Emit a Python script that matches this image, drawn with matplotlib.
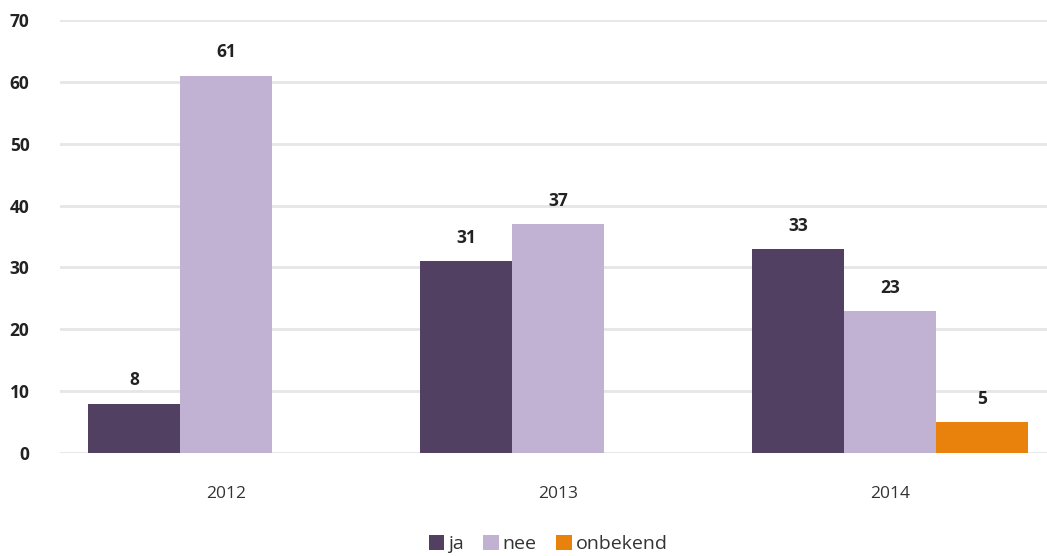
import numpy as np
import matplotlib
matplotlib.use("Agg")
import matplotlib.pyplot as plt

years = ["2012", "2013", "2014"]
series_names = ["ja", "nee", "onbekend"]
ja = [8, 31, 33]
nee = [61, 37, 23]
onbekend = [np.nan, np.nan, 5]
COLORS = ["#524063", "#C1B1D3", "#E8820C"]

plt.rcParams["font.family"] = ["Open Sans", "DejaVu Sans"]

fig = plt.figure(figsize=(10.47, 5.56), dpi=100)
W, H = 1047, 556
ax = fig.add_axes([60 / W, (H - 453) / H, 996 / W, 433 / H])

x = np.arange(len(years))
width = 0.277
for i, (name, vals) in enumerate(zip(series_names, [ja, nee, onbekend])):
    offs = (i - 1) * width
    ax.bar(x + offs, vals, width, color=COLORS[i], label=name, zorder=3)
    for xi, v in zip(x + offs, vals):
        if not np.isnan(v):
            ax.text(xi, v + 2.3, f"{v:g}", ha="center", va="bottom",
                    fontsize=12.5, fontweight="bold", color="#222222")

ax.set_xlim(-0.5, 2.5)
ax.set_ylim(0, 70)
ax.set_yticks(range(0, 71, 10))
ax.yaxis.grid(True, color="#E6E6E6", lw=2)
ax.set_axisbelow(True)
for s in ax.spines.values():
    s.set_visible(False)
ax.tick_params(length=0)
ax.set_xticks(x)
ax.set_xticklabels(years, fontsize=12.5, color="#333333")
ax.tick_params(axis="x", pad=24)
ax.tick_params(axis="y", pad=22)
for lbl in ax.get_yticklabels():
    lbl.set_fontsize(12.5)
    lbl.set_fontweight("bold")
    lbl.set_color("#222222")

fig.legend(loc="center", bbox_to_anchor=(548 / W, (H - 544) / H), ncol=3,
           frameon=False, fontsize=14, handlelength=0.8, handleheight=0.8,
           handletextpad=0.2, columnspacing=1.0, labelcolor="#333333")

fig.savefig("out.png", dpi=100)
